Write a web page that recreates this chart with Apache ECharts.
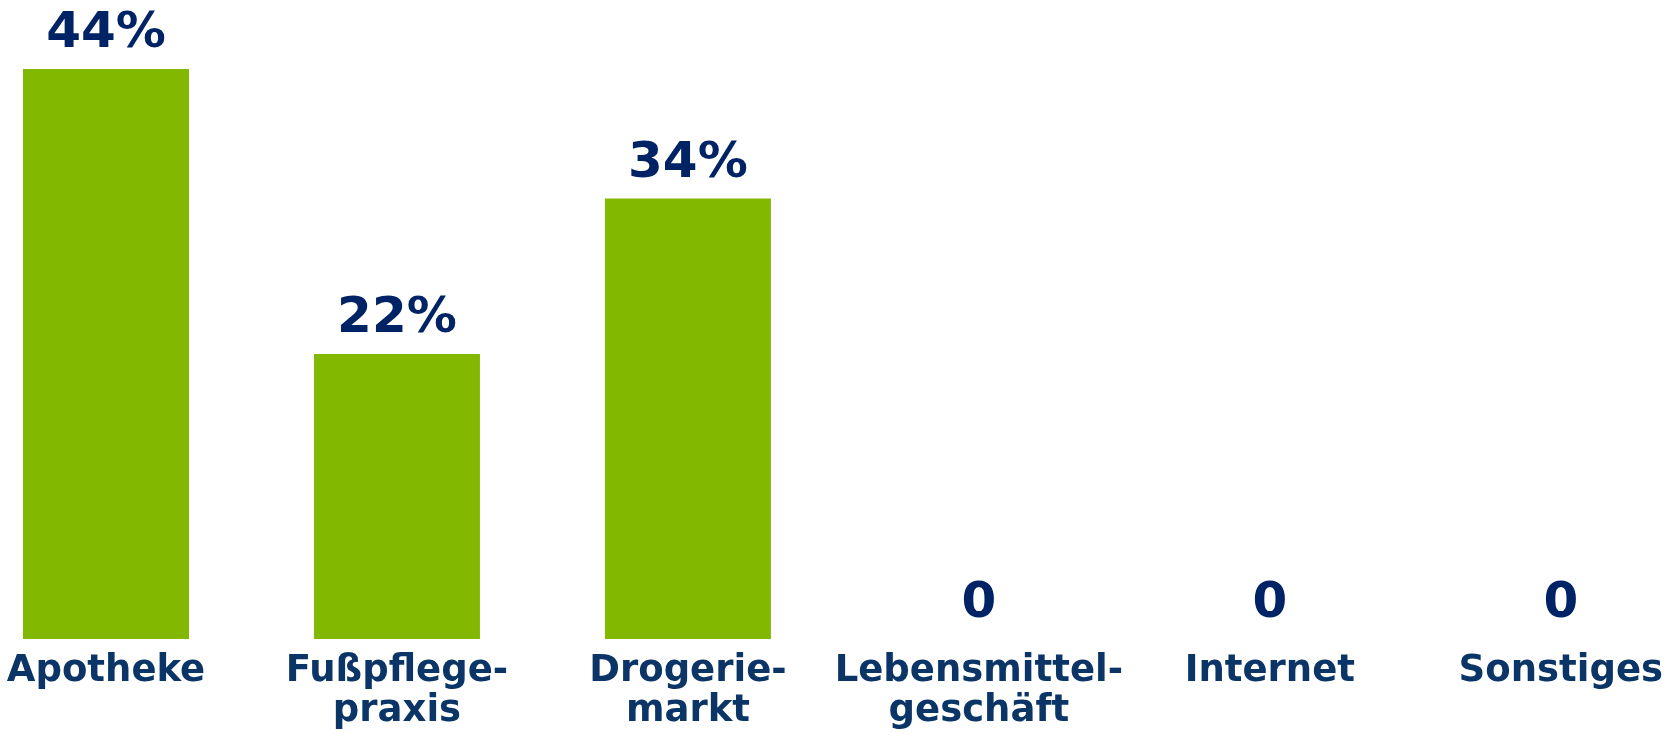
<!DOCTYPE html>
<html>
<head>
<meta charset="utf-8">
<title>Bezugsquelle</title>
<script src="https://cdn.jsdelivr.net/npm/echarts@6/dist/echarts.min.js"></script>
<style>
    html, body { margin: 0; padding: 0; background: #fff; }
    #myChart { width: 1666px; height: 733px; }
</style>
</head>
<body>
<div id="myChart"></div>
<script>
// Kategorien und Werte (Prozent)
var categories = ['Apotheke', 'Fußpflege-\npraxis', 'Drogerie-\nmarkt', 'Lebensmittel-\ngeschäft', 'Internet', 'Sonstiges'];
var values = [44, 22, 34, 0, 0, 0];

var myChart = echarts.init(document.getElementById('myChart'));
var option = {
    animation: false,
    // erste und letzte Kategorie liegen direkt an den Grid-Rändern
    grid: {
        left: 106,
        right: 104,
        top: 69,
        bottom: 94
    },
    xAxis: {
        type: 'category',
        data: categories,
        boundaryGap: false,
        axisLine: { show: false },
        axisTick: { show: false },
        splitLine: { show: false },
        axisLabel: {
            interval: 0,
            margin: 12,
            color: '#0a3566',
            fontFamily: 'DejaVu Sans',
            fontWeight: 'bold',
            fontSize: 37,
            lineHeight: 40
        }
    },
    yAxis: {
        type: 'value',
        show: false,
        min: 0,
        max: 44,
        splitLine: { show: false }
    },
    series: [
        {
            type: 'bar',
            data: values,
            barWidth: 166,
            itemStyle: { color: '#83b800' },
            label: {
                show: true,
                position: 'top',
                distance: 10,
                color: '#002365',
                fontFamily: 'DejaVu Sans',
                fontWeight: 'bold',
                fontSize: 50,
                formatter: function (p) {
                    return p.value === 0 ? '0' : p.value + '%';
                }
            }
        }
    ]
};
myChart.setOption(option);
</script>
</body>
</html>
